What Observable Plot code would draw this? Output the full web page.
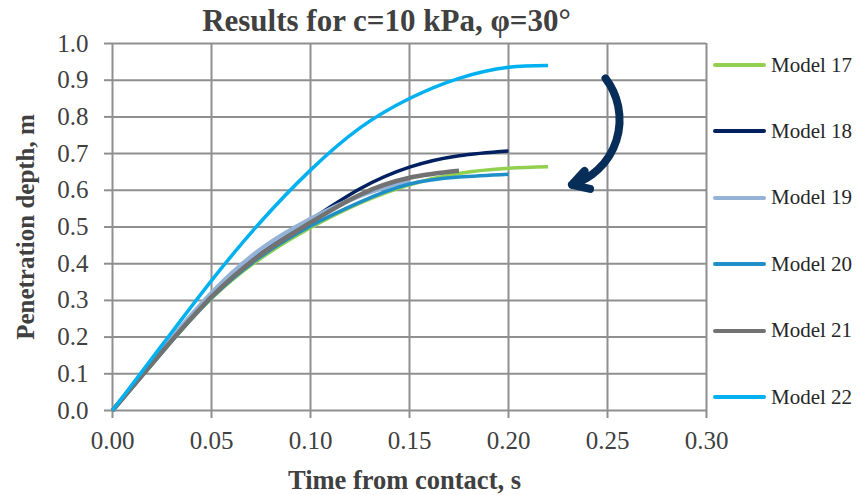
<!DOCTYPE html>
<html><head><meta charset="utf-8">
<script src="https://cdn.jsdelivr.net/npm/d3@7"></script>
<script src="https://cdn.jsdelivr.net/npm/@observablehq/plot@0.6"></script>
<style>
body{margin:0;background:#fff;}
#wrap{position:relative;width:856px;height:495px;font-family:"Liberation Serif",serif;}
#legend{position:absolute;left:713px;top:0;}
.item{position:absolute;left:0;display:flex;align-items:center;white-space:nowrap;font-size:21px;color:#262626;height:24px;margin-top:-12px;}
.sw{width:53px;height:4px;margin-right:5px;border-radius:2px;}
</style></head><body><div id="wrap"><div id="legend"></div></div>
<script>
// Time from contact, s
const time = [0, 0.025, 0.05, 0.075, 0.1, 0.125, 0.15, 0.175, 0.2, 0.22];
// Penetration depth, m (null = series already ended)
const model17 = [0, 0.158, 0.305, 0.415, 0.498, 0.565, 0.615, 0.646, 0.660, 0.664];
const model18 = [0, 0.162, 0.312, 0.432, 0.520, 0.604, 0.663, 0.694, 0.707, null];
const model19 = [0, 0.166, 0.320, 0.440, 0.522, 0.585, 0.627, null, null, null];
const model20 = [0, 0.158, 0.307, 0.420, 0.503, 0.568, 0.617, 0.636, 0.644, null];
const model21 = [0, 0.160, 0.310, 0.425, 0.512, 0.588, 0.634, 0.653, null, null];
const model22 = [0, 0.178, 0.354, 0.515, 0.655, 0.770, 0.850, 0.905, 0.935, 0.940];

const seriesNames = ["Model 17", "Model 18", "Model 19", "Model 20", "Model 21", "Model 22"];
const seriesValues = [model17, model18, model19, model20, model21, model22];
const seriesColors = ["#92D050", "#002060", "#95B3D7", "#1F8FC9", "#727272", "#00B0F0"];
const seriesWidths = [3.5, 3.5, 4.5, 3.5, 4.5, 3.5];

const xTicks = [0, 0.05, 0.10, 0.15, 0.20, 0.25, 0.30];
const yTicks = [0, 0.1, 0.2, 0.3, 0.4, 0.5, 0.6, 0.7, 0.8, 0.9, 1.0];

// annotation arrow (time, depth): from -> to
const arrowFrom = [0.249, 0.905];
const arrowTo = [0.232, 0.615];

const titleText = "Results for c=10 kPa, φ=30°";
const xLabel = "Time from contact, s";
const yLabel = "Penetration depth, m";

const rows = [];
seriesNames.forEach((name, i) => {
  time.forEach((t, j) => {
    const v = seriesValues[i][j];
    if (v != null) rows.push({series: name, t, v});
  });
});

const gridColor = "#8f8f8f";
const lineMarks = seriesNames.map((name, i) =>
  Plot.line(rows.filter(d => d.series === name), {
    x: "t", y: "v", stroke: seriesColors[i], strokeWidth: seriesWidths[i],
    curve: "natural", strokeLinecap: "butt"
  })
);

const chart = Plot.plot({
  width: 856, height: 495,
  marginLeft: 112, marginRight: 150, marginTop: 43, marginBottom: 85,
  style: {fontFamily: "'Liberation Serif', serif", fontSize: "25px", color: "#404040", background: "#fff"},
  x: {domain: [0, 0.3]},
  y: {domain: [0, 1]},
  marks: [
    Plot.gridX(xTicks, {stroke: gridColor, strokeOpacity: 1, strokeWidth: 2}),
    Plot.gridY(yTicks, {stroke: gridColor, strokeOpacity: 1, strokeWidth: 2}),
    Plot.axisX({ticks: xTicks, tickFormat: d3.format(".2f"), tickSize: 8, tickPadding: 13, stroke: gridColor, strokeWidth: 2, fill: "#404040", label: null}),
    Plot.axisY({ticks: yTicks, tickFormat: d3.format(".1f"), tickSize: 8, tickPadding: 16, stroke: gridColor, strokeWidth: 2, fill: "#404040", label: null}),
    ...lineMarks,
    Plot.arrow([{x1: arrowFrom[0], y1: arrowFrom[1], x2: arrowTo[0], y2: arrowTo[1]}], {
      x1: "x1", y1: "y1", x2: "x2", y2: "y2", bend: 55, stroke: "#062E58", strokeWidth: 8, headLength: 3.5
    }),
    Plot.text([titleText], {frameAnchor: "top", dy: -22, dx: -23, fontSize: 31, fontWeight: "bold", fill: "#404040", lineAnchor: "middle"}),
    Plot.text([xLabel], {frameAnchor: "bottom", dy: 70, dx: -5, fontSize: 26.5, fontWeight: "bold", fill: "#404040", lineAnchor: "middle"}),
    Plot.text([yLabel], {frameAnchor: "left", dx: -87, rotate: -90, fontSize: 25, fontWeight: "bold", fill: "#404040", lineAnchor: "middle", textAnchor: "middle"})
  ]
});
document.getElementById("wrap").prepend(chart);

const legend = document.getElementById("legend");
seriesNames.forEach((name, i) => {
  const it = document.createElement("div");
  it.className = "item";
  it.style.top = (65 + i * 66.4) + "px";
  const sw = document.createElement("div");
  sw.className = "sw";
  sw.style.background = seriesColors[i];
  const lb = document.createElement("span");
  lb.textContent = name;
  it.append(sw, lb);
  legend.append(it);
});
</script></body></html>
